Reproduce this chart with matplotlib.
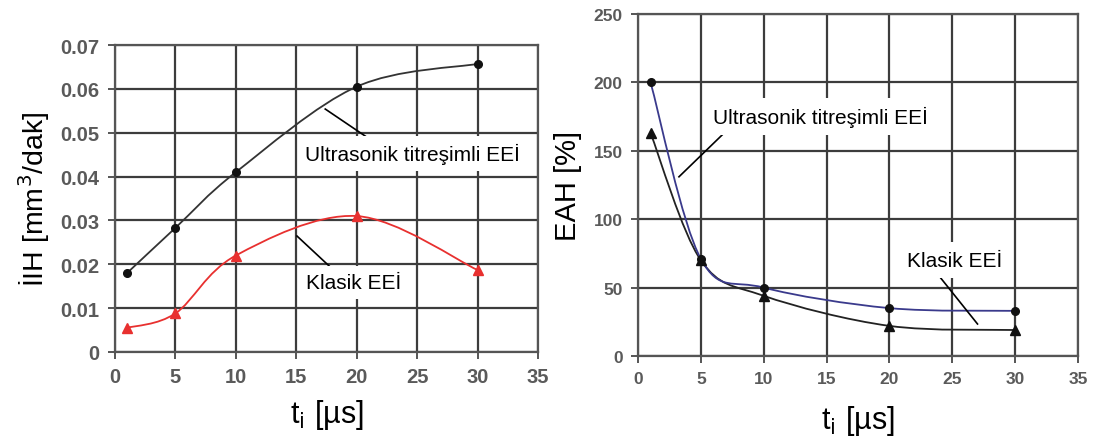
import numpy as np
import matplotlib.pyplot as plt
from matplotlib.path import Path
from matplotlib.patches import PathPatch

plt.rcParams['font.family'] = ['Liberation Sans', 'DejaVu Sans']

# data
t_us = [1, 5, 10, 20, 30]
iih_ultra = [0.018, 0.0283, 0.041, 0.0605, 0.0657]
iih_klasik = [0.0055, 0.0088, 0.022, 0.031, 0.0187]
eah_ultra = [200, 71, 50, 35, 33]
eah_klasik = [163, 70, 44, 22, 19]

xticks = [0, 5, 10, 15, 20, 25, 30, 35]
yticks_left = [0, 0.01, 0.02, 0.03, 0.04, 0.05, 0.06, 0.07]
ytick_labels_left = ['0', '0.01', '0.02', '0.03', '0.04', '0.05', '0.06', '0.07']
yticks_right = [0, 50, 100, 150, 200, 250]


def smooth_line(ax, x, y, color, lw=1.3):
    # excel style smoothed line: bezier segments, catmull-rom control points
    x = np.asarray(x, float)
    y = np.asarray(y, float)
    xp = np.concatenate([[x[0]], x, [x[-1]]])
    yp = np.concatenate([[y[0]], y, [y[-1]]])
    verts = [(x[0], y[0])]
    codes = [Path.MOVETO]
    for j in range(1, len(x)):
        c1 = (xp[j] + (xp[j + 1] - xp[j - 1]) / 6, yp[j] + (yp[j + 1] - yp[j - 1]) / 6)
        c2 = (xp[j + 1] - (xp[j + 2] - xp[j]) / 6, yp[j + 1] - (yp[j + 2] - yp[j]) / 6)
        verts += [c1, c2, (xp[j + 1], yp[j + 1])]
        codes += [Path.CURVE4] * 3
    ax.add_patch(PathPatch(Path(verts, codes), fill=False, edgecolor=color, lw=lw, zorder=3))


def style(ax, lsize):
    ax.set_xlim(0, 35)
    ax.set_xticks(xticks)
    ax.grid(True, color='#3c3c3c', lw=1.6)
    ax.set_axisbelow(True)
    for s in ax.spines.values():
        s.set_color('#555555')
        s.set_linewidth(1.6)
    ax.tick_params(direction='out', length=5, width=1.4, color='#555555',
                   labelcolor='#5a5a5a', labelsize=lsize, pad=6)
    for lab in ax.get_xticklabels() + ax.get_yticklabels():
        lab.set_fontweight('bold')


fig = plt.figure(figsize=(10.99, 4.39), dpi=100)
ax1 = fig.add_axes([0.1046, 0.1959, 0.3849, 0.6993])
ax2 = fig.add_axes([0.5805, 0.1868, 0.4005, 0.7790])

# left: İIH
ax1.set_ylim(0, 0.07)
ax1.set_yticks(yticks_left)
ax1.set_yticklabels(ytick_labels_left)
style(ax1, 14.5)
smooth_line(ax1, t_us, iih_ultra, '#333333')
smooth_line(ax1, t_us, iih_klasik, '#e8302f')
ax1.plot(t_us, iih_ultra, 'o', color='#111111', ms=5.5, zorder=4)
ax1.plot(t_us, iih_klasik, '^', color='#e8302f', ms=7, zorder=4)
ax1.plot([17.4, 21.8], [0.0554, 0.0472], color='black', lw=1.2, zorder=3)
ax1.plot([15.06, 18.7], [0.02645, 0.0171], color='black', lw=1.2, zorder=3)
ax1.text(15.7, 0.0452, 'Ultrasonik titreşimli EEİ', fontsize=15, va='center', zorder=5,
         bbox=dict(fc='white', ec='none', pad=5))
ax1.text(15.8, 0.0158, 'Klasik EEİ', fontsize=15, va='center', zorder=5,
         bbox=dict(fc='white', ec='none', pad=5))
ax1.set_xlabel('t$_\\mathrm{i}$ [µs]', fontsize=22, labelpad=8)
ax1.set_ylabel('İIH [mm$^3$/dak]', fontsize=20.5, labelpad=6)

# right: EAH
ax2.set_ylim(0, 250)
ax2.set_yticks(yticks_right)
style(ax2, 12.5)
smooth_line(ax2, t_us, eah_klasik, '#222222')
smooth_line(ax2, t_us, eah_ultra, '#3a3a8c')
ax2.plot(t_us, eah_ultra, 'o', color='#111111', ms=5.5, zorder=4)
ax2.plot(t_us, eah_klasik, '^', color='#111111', ms=7, zorder=4)
ax2.plot([3.26, 7.3], [131, 167], color='black', lw=1.2, zorder=3)
ax2.plot([23.9, 27.0], [59, 23.4], color='black', lw=1.2, zorder=3)
ax2.text(6.0, 175, 'Ultrasonik titreşimli EEİ', fontsize=15, va='center', zorder=5,
         bbox=dict(fc='white', ec='none', pad=6))
ax2.text(21.4, 70, 'Klasik EEİ', fontsize=15, va='center', zorder=5,
         bbox=dict(fc='white', ec='none', pad=6))
ax2.set_xlabel('t$_\\mathrm{i}$ [µs]', fontsize=22, labelpad=12)
ax2.set_ylabel('EAH [%]', fontsize=21, labelpad=8)

fig.savefig('out.png', dpi=100)
